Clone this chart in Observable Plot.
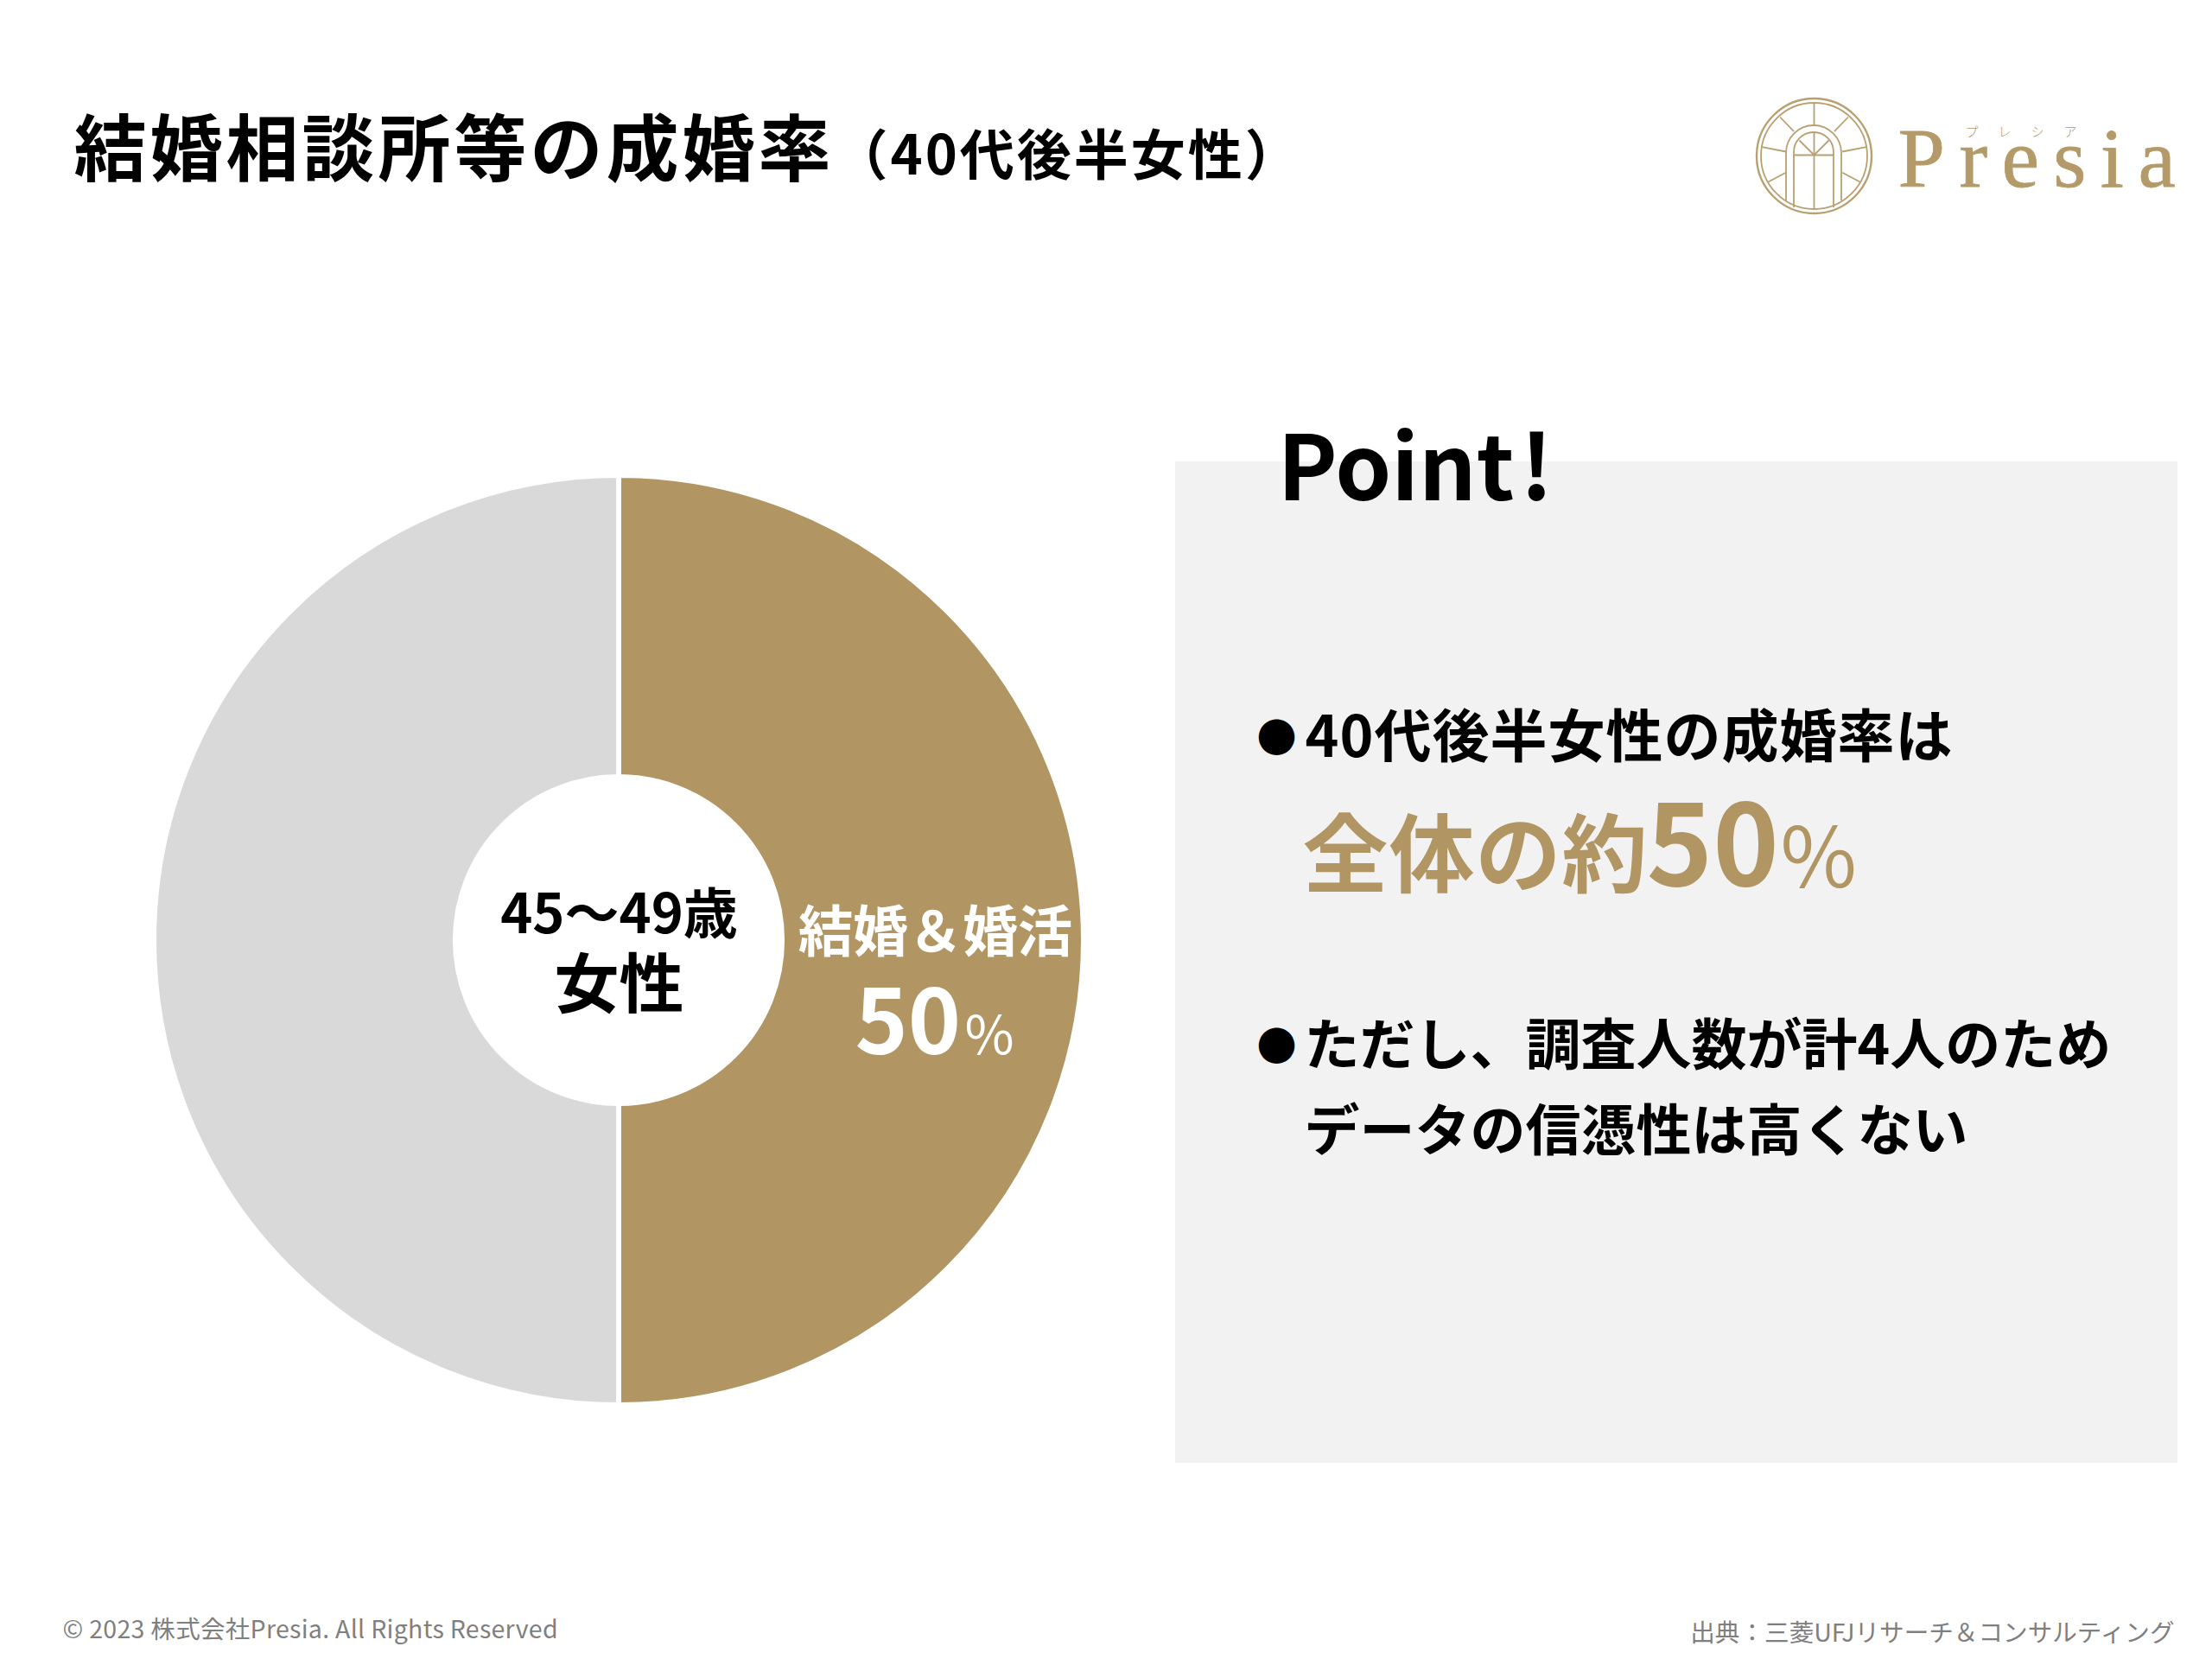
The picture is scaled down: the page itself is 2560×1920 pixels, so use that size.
<!DOCTYPE html>
<html lang="ja">
<head>
<meta charset="utf-8">
<script src="https://cdn.jsdelivr.net/npm/d3@7"></script>
<script src="https://cdn.jsdelivr.net/npm/@observablehq/plot@0.6"></script>
<style>
html,body{margin:0;padding:0;background:#fff}
svg text{font-family:"Noto Sans CJK JP","Noto Sans",sans-serif}
.ls4 text{letter-spacing:4px}
.ls3 text{letter-spacing:3px}
.ls1 text{letter-spacing:1px}
.ls03 text{letter-spacing:.3px}
.logoWord text{font-family:"Liberation Serif",serif;letter-spacing:16.4px}
.logoKana text{letter-spacing:23px}
</style>
</head>
<body>
<div id="chart"></div>
<script>
const categories = ["結婚＆婚活", "その他"];
const values = [50, 50];
const sliceColors = ["#B19562", "#D9D9D9"];
const gold = "#B19562";
const black = "#000000";
const grey = "#7F7F7F";

const titleText = "結婚相談所等の成婚率";
const subtitleText = "（40代後半女性）";
const centerTop = "45～49歳";
const centerBottom = "女性";
const sliceLabel = "結婚＆婚活";
const sliceValue = String(values[0]);
const pointHead = "Point\u200A!";
const bullet = "●";
const line1 = "40代後半女性の成婚率は";
const line2a = "全体の約";
const line2b = String(values[0]);
const line3 = "ただし、調査人数が計4人のため";
const line4 = "データの信憑性は高くない";
const copyright = "© 2023 株式会社Presia. All Rights Reserved";
const source = "出典：三菱UFJリサーチ＆コンサルティング";

const slices = categories.map((category, i) => ({category, value: values[i]}));

// Donut: each slice's angle comes from its value via d3.pie; fill comes from Plot's colour scale.
function donutRender(index, scales, channels) {
  const g = d3.create("svg:g");
  const pie = d3.pie().value(d => d.value).sort(null)(slices);
  const arc = d3.arc().innerRadius(189).outerRadius(538);
  for (const i of index) {
    g.append("path")
      .attr("transform", `translate(${channels.x[i]},${channels.y[i]})`)
      .attr("d", arc(pie[i]))
      .attr("fill", channels.fill[i])
      .attr("stroke", "#fff")
      .attr("stroke-width", 6);
  }
  return g.node();
}

function label(text, x, y, fontSize, fill, opts = {}) {
  return Plot.text([text], {
    x: () => x, y: () => y, text: d => d,
    fontSize, fill, fontWeight: 700, textAnchor: "start", lineAnchor: "bottom", ...opts
  });
}

// Logo (decoration)
const lc = {x: 2099, y: 180};
const logoStroke = {stroke: "#B9A071", strokeWidth: 1.8, fill: "none"};
const spokes = [
  [2099,119,2099,145],[2059.6,135,2075.6,151.7],[2138.4,135,2122.4,151.7],
  [2037.4,169.3,2066.3,175],[2160.6,169.3,2131.7,175],
  [2046,210,2066.3,199.3],[2152,210,2131.7,199.3],
  [2099,153,2099,241],[2076,179,2122,179],[2082,162,2099,179],[2116,162,2099,179]
].map(([x1,y1,x2,y2]) => ({x1,y1,x2,y2}));
function arch(r, top, bottom) {
  return function(index, scales) {
    const p = d3.path();
    const cy = top + r;
    p.moveTo(scales.x(lc.x - r), scales.y(bottom));
    p.lineTo(scales.x(lc.x - r), scales.y(cy));
    p.arc(scales.x(lc.x), scales.y(cy), r, Math.PI, 2 * Math.PI);
    p.lineTo(scales.x(lc.x + r), scales.y(bottom));
    return d3.create("svg:path").attr("d", p.toString())
      .attr("fill", "none").attr("stroke", logoStroke.stroke).attr("stroke-width", logoStroke.strokeWidth).node();
  };
}

const chart = Plot.plot({
  width: 2560, height: 1920,
  margin: 0,
  x: {domain: [0, 2560], range: [0, 2560], axis: null},
  y: {domain: [0, 1920], range: [0, 1920], axis: null},
  color: {domain: categories, range: sliceColors},
  style: {background: "#fff"},
  marks: [
    Plot.rect([0], {x1: 1360, x2: 2520, y1: 534, y2: 1693, fill: "#F2F2F2"}),
    Plot.dot(slices, {x: () => 716, y: () => 1088, fill: "category", render: donutRender}),

    label(titleText, 85, 202, 84, black, {className: "ls4"}),
    label(subtitleText, 964, 201, 63, black, {className: "ls3"}),

    label(centerTop, 716, 1079, 63, black, {textAnchor: "middle"}),
    label(centerBottom, 716, 1165, 75, black, {textAnchor: "middle"}),
    label(sliceLabel, 1082, 1100, 63.5, "#fff", {textAnchor: "middle"}),
    label(sliceValue, 989, 1219, 104, "#fff"),
    label("%", 1116, 1219, 62, "#fff", {fontWeight: 400}),

    label(pointHead, 1478, 578, 104, black),
    label(bullet, 1454, 869, 46, black),
    label(line1, 1510, 875, 66, black, {className: "ls1"}),
    label(line2a, 1507, 1024, 99, gold, {className: "ls1"}),
    label(line2b, 1905, 1024, 130, gold),
    label("%", 2060, 1026, 96, gold, {fontWeight: 400}),
    label(bullet, 1454, 1226, 46, black),
    label(line3, 1509, 1231, 64, black),
    label(line4, 1509, 1330, 64, black),

    label(copyright, 72, 1895, 28.5, grey, {fontWeight: 400, className: "ls03"}),
    label(source, 2516, 1899, 28.6, grey, {fontWeight: 400, textAnchor: "end"}),

    // logo
    Plot.dot([0], {x: () => lc.x, y: () => lc.y, r: 66.5, ...logoStroke, strokeWidth: 2.4}),
    Plot.dot([0], {x: () => lc.x, y: () => lc.y, r: 61.5, ...logoStroke}),
    arch(32, 145, 232),
    arch(23, 153, 240),
    Plot.link(spokes, {x1: "x1", y1: "y1", x2: "x2", y2: "y2", stroke: logoStroke.stroke, strokeWidth: 1.8}),
    label("Presia", 2196, 215, 98, "#B49A68", {fontWeight: 400, stroke: "#B49A68", strokeWidth: 0.8, className: "logoWord"}),
    label("プレシア", 2274, 157, 15, "#B49A68", {fontWeight: 300, className: "logoKana"})
  ]
});
document.getElementById("chart").append(chart);
</script>
</body>
</html>
